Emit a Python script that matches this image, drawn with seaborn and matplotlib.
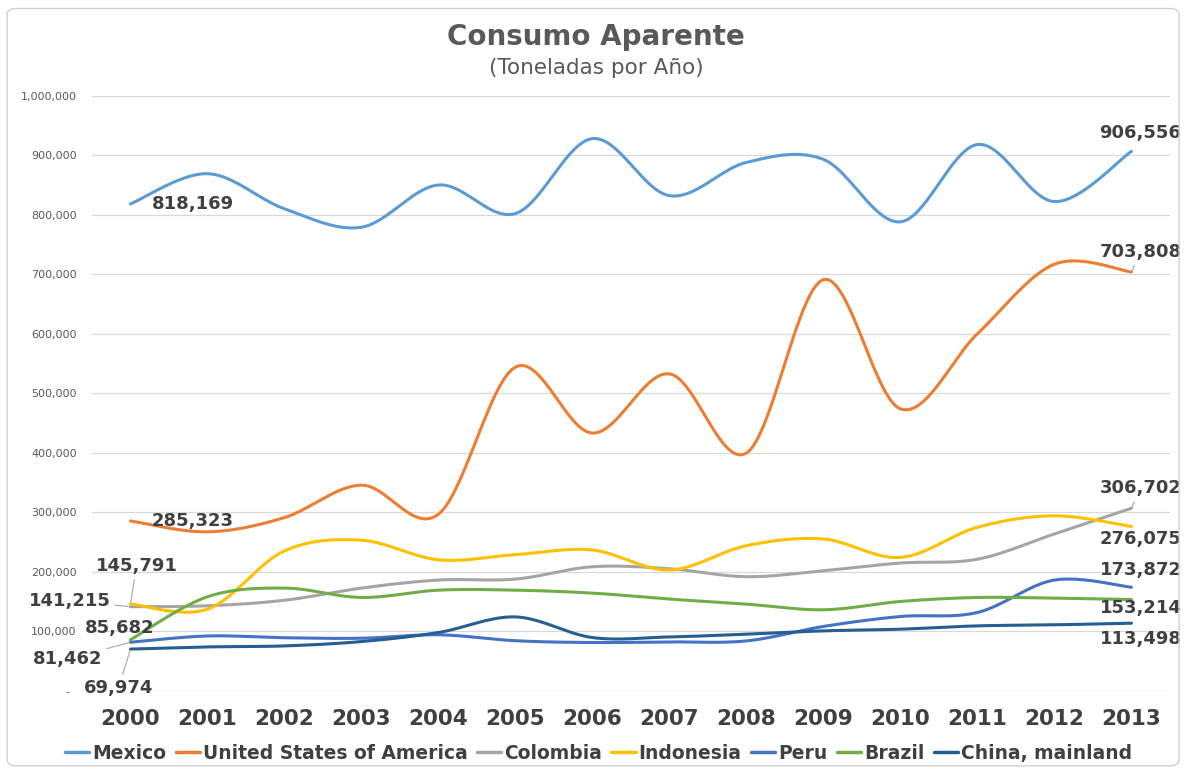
import matplotlib
matplotlib.use("Agg")
import matplotlib.pyplot as plt
import matplotlib.ticker as mticker
from matplotlib.lines import Line2D
from matplotlib.patches import FancyBboxPatch
import numpy as np
import pandas as pd
import seaborn as sns

# ---- data (toneladas por año) ----
years = list(range(2000, 2014))
mexico = [818169, 869000, 810000, 779000, 850000, 802000, 928000,
          832000, 888000, 893000, 788000, 918000, 822000, 906556]
usa = [285323, 267000, 291000, 345500, 296600, 544000, 433000,
       532600, 399400, 691000, 473600, 600000, 716800, 703808]
colombia = [141215, 142700, 152000, 172500, 186000, 187600, 208400,
            205000, 191600, 201700, 214600, 221000, 263500, 306702]
indonesia = [145791, 137000, 235000, 253000, 220000, 228700, 236500,
             202800, 243800, 255000, 224000, 274700, 294000, 276075]
peru = [81462, 92000, 89000, 88200, 94000, 84000, 81000,
        82000, 83700, 108000, 124700, 131500, 186000, 173872]
brazil = [85682, 157900, 172500, 156700, 169000, 169000, 164000,
          154000, 145500, 136000, 150000, 156700, 155600, 153214]
china = [69974, 73600, 75300, 82600, 97800, 124000, 89300,
         90400, 95000, 100600, 103400, 109000, 110700, 113498]

countries = ["Mexico", "United States of America", "Colombia", "Indonesia",
             "Peru", "Brazil", "China, mainland"]
series = [mexico, usa, colombia, indonesia, peru, brazil, china]
colors = ["#5B9BD5", "#ED7D31", "#A5A5A5", "#FFC000", "#4472C4", "#70AD47", "#255E91"]

TEXT = "#404040"
GRID = "#D9D9D9"


def smooth(xs, ys, steps=24):
    """Excel-like smoothed line: cubic Bezier through every point."""
    xs = np.asarray(xs, float)
    ys = np.asarray(ys, float)
    n = len(xs)
    out_x, out_y = [xs[0]], [ys[0]]
    t = np.linspace(0, 1, steps)[1:]
    for i in range(n - 1):
        i0, i3 = max(i - 1, 0), min(i + 2, n - 1)
        p0 = np.array([xs[i], ys[i]])
        p3 = np.array([xs[i + 1], ys[i + 1]])
        c1 = p0 + (p3 - np.array([xs[i0], ys[i0]])) / 6
        c2 = p3 - (np.array([xs[i3], ys[i3]]) - p0) / 6
        pts = (((1 - t) ** 3)[:, None] * p0 + (3 * (1 - t) ** 2 * t)[:, None] * c1
               + (3 * (1 - t) * t ** 2)[:, None] * c2 + (t ** 3)[:, None] * p3)
        out_x.extend(pts[:, 0])
        out_y.extend(pts[:, 1])
    return out_x, out_y


rows = []
for name, vals in zip(countries, series):
    sx, sy = smooth(years, vals)
    rows.append(pd.DataFrame({"year": sx, "value": sy, "country": name}))
df = pd.concat(rows, ignore_index=True)

sns.set_theme(style="white")
plt.rcParams["font.family"] = ["DejaVu Sans"]

fig = plt.figure(figsize=(11.85, 7.72), dpi=100)
ax = fig.add_axes([0.0776, 0.1053, 0.9097, 0.7707])

fig.patches.append(FancyBboxPatch((0.006, 0.008), 0.989, 0.981,
                                  boxstyle="round,pad=0,rounding_size=0.008",
                                  transform=fig.transFigure, fill=False,
                                  edgecolor="#D0D0D0", lw=1.0))

sns.lineplot(data=df, x="year", y="value", hue="country", hue_order=countries,
             palette=colors, sort=False, estimator=None, lw=2.2, legend=False, ax=ax)

ax.set_xlim(1999.5, 2013.5)
ax.set_ylim(0, 1000000)
ax.set_yticks(np.arange(0, 1000001, 100000))
ax.yaxis.set_major_formatter(mticker.FuncFormatter(
    lambda v, p: "-  " if v == 0 else f"{v:,.0f}"))
ax.set_xticks(years)
ax.set_xticklabels([str(y) for y in years])
ax.tick_params(axis="y", length=0, pad=11, labelsize=8, labelcolor="#595959")
ax.tick_params(axis="x", length=0, pad=13, labelsize=15.5, labelcolor=TEXT)
for lab in ax.get_xticklabels():
    lab.set_fontweight("bold")
ax.grid(axis="y", color=GRID, lw=0.9)
ax.grid(axis="x", visible=False)
for s in ax.spines.values():
    s.set_visible(False)
ax.set_xlabel("")
ax.set_ylabel("")

# ---- data labels: (series index, point index, dx px, dy px up, leader) ----
labels = [
    (0, 0, 62, 0, False), (1, 0, 62, 0, False),
    (0, 13, 9, 18, False), (1, 13, 9, 20, True), (2, 13, 9, 20, True),
    (3, 13, 9, -13, False), (4, 13, 9, 17, False), (5, 13, 9, -8, False),
    (6, 13, 9, -16, False),
    (3, 0, 6, 38, True), (2, 0, -61, 6, True), (5, 0, -11, 12, False),
    (4, 0, -63, -17, True), (6, 0, -12, -39, True),
]
for si, pi, dx, dy, leader in labels:
    v = series[si][pi]
    kw = {}
    if leader:
        kw["arrowprops"] = dict(arrowstyle="-", color="#A6A6A6", lw=0.8,
                                shrinkA=1, shrinkB=1)
    ax.annotate(f"{v:,}", xy=(years[pi], v), xytext=(dx * 0.72, dy * 0.72),
                textcoords="offset points", ha="center", va="center",
                fontsize=13, fontweight="bold", color=TEXT, **kw)

fig.text(0.503, 0.952, "Consumo Aparente", ha="center", va="center",
         fontsize=20, fontweight="bold", color="#595959")
fig.text(0.503, 0.912, "(Toneladas por Año)", ha="center", va="center",
         fontsize=15.5, color="#595959")

handles = [Line2D([], [], color=c, lw=2.5) for c in colors]
fig.legend(handles, countries, loc="center", bbox_to_anchor=(0.505, 0.024),
           ncol=7, frameon=False, handlelength=1.3,
           handletextpad=0.15, columnspacing=0.5, borderpad=0,
           prop={"weight": "bold", "size": 13.5}, labelcolor=TEXT)

fig.savefig("out.png", dpi=100)
